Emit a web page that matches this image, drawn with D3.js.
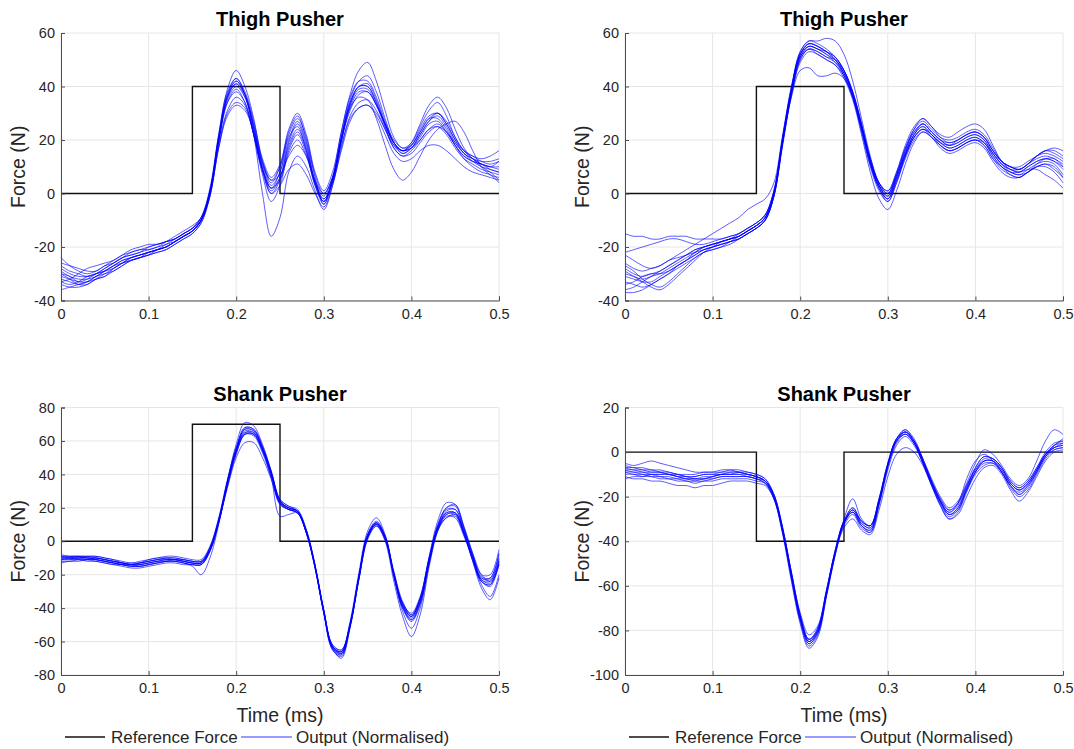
<!DOCTYPE html>
<html>
<head>
<meta charset="utf-8">
<script src="https://cdn.jsdelivr.net/npm/d3@7"></script>
<style>
  body { margin: 0; background: #ffffff; }
  svg { display: block; }
  text { font-family: "Liberation Sans", Arial, Helvetica, sans-serif; }
</style>
</head>
<body>
<svg id="fig" width="1074" height="749"></svg>
<script>
// Sample instants (ms) shared by every measured run
const sampleTimes = [
  0.00,0.01,0.02,0.03,0.04,0.05,0.06,0.07,0.08,0.09,
  0.10,0.11,0.12,0.13,0.14,0.15,0.16,0.17,0.18,0.19,
  0.20,0.21,0.22,0.23,0.24,0.25,0.26,0.27,0.28,0.29,
  0.30,0.31,0.32,0.33,0.34,0.35,0.36,0.37,0.38,0.39,
  0.40,0.41,0.42,0.43,0.44,0.45,0.46,0.47,0.48,0.49,
  0.50
];

// Commanded force pulses (step corners)
const refTimes = [0, 0.15, 0.15, 0.25, 0.25, 0.5];
const refThighA = [0, 0, 40, 40, 0, 0];
const refThighB = [0, 0, 40, 40, 0, 0];
const refShankA = [0, 0, 70, 70, 0, 0];
const refShankB = [0, 0, -40, -40, 0, 0];

// Axis ticks
const timeTicks = [0, 0.1, 0.2, 0.3, 0.4, 0.5];
const thighForceTicks = [-40, -20, 0, 20, 40, 60];
const shankForceTicksA = [-80, -60, -40, -20, 0, 20, 40, 60, 80];
const shankForceTicksB = [-100, -80, -60, -40, -20, 0, 20];

// Measured runs, thigh pusher (left)
const thighRunsA = [
  [-30,-31,-33,-32,-30,-29,-27,-25,-24,-23,
   -22,-21,-20,-18,-16,-14,-10,0,20,35,
   40,36,25,10,2,8,21,25,16,3,
   -3,5,20,32,38,38,33,26,19,16,
   18,23,28,28,24,18,14,12,11,10,
   9],
  [-28,-30,-31,-31,-30,-28,-26,-24,-23,-22,
   -21,-20,-19,-17,-15,-13,-9,1,22,39,
   46,40,28,12,4,10,23,29,20,6,
   -4,6,23,37,46,49,42,31,21,17,
   19,25,31,34,29,21,16,14,12,11,
   12],
  [-34,-35,-35,-34,-32,-31,-29,-27,-25,-24,
   -23,-22,-21,-19,-17,-15,-11,-1,17,29,
   33,31,23,11,5,7,14,18,14,5,
   0,6,18,28,32,33,30,24,18,16,
   17,20,24,25,22,17,13,11,9,8,
   7],
  [-32,-33,-34,-33,-31,-30,-28,-26,-24,-23,
   -22,-21,-20,-18,-16,-14,-10,0,21,37,
   43,37,22,0,-16,-9,8,14,10,1,
   -6,3,20,34,40,41,35,26,19,16,
   18,24,29,30,26,20,15,13,11,10,
   10],
  [-26,-27,-28,-29,-29,-27,-26,-24,-22,-21,
   -20,-19,-18,-17,-15,-13,-9,1,20,36,
   41,37,26,12,5,10,22,28,21,7,
   0,6,20,31,37,38,33,26,19,16,
   17,21,26,27,23,18,14,12,11,10,
   12],
  [-29,-31,-32,-32,-31,-29,-27,-26,-25,-24,
   -23,-21,-20,-18,-16,-14,-10,0,19,34,
   39,34,22,7,-3,3,16,22,15,3,
   -4,4,19,33,40,40,34,26,19,16,
   19,26,33,36,32,24,17,13,10,8,
   5],
  [-31,-32,-33,-33,-31,-29,-27,-25,-24,-23,
   -22,-21,-20,-18,-16,-14,-10,0,20,34,
   38,34,22,8,0,5,17,23,16,4,
   -3,5,20,32,36,35,28,18,9,5,
   8,14,20,24,26,27,23,16,10,7,
   6],
  [-33,-34,-33,-31,-30,-29,-28,-26,-25,-24,
   -22,-21,-19,-18,-16,-14,-10,0,20,36,
   41,36,24,9,2,6,18,24,17,4,
   -2,5,21,34,40,40,34,25,17,14,
   16,20,24,26,23,18,13,10,8,7,
   4],
  [-27,-29,-30,-31,-30,-28,-26,-24,-23,-22,
   -20,-19,-18,-17,-15,-13,-9,2,22,38,
   43,38,27,13,6,11,24,30,22,8,
   1,8,23,36,42,42,36,27,20,17,
   18,23,28,30,26,20,16,14,13,14,
   16],
  [-30,-32,-34,-34,-32,-31,-28,-26,-24,-23,
   -22,-21,-20,-18,-16,-14,-10,-1,18,31,
   36,33,22,9,2,5,15,20,14,4,
   -2,4,16,27,32,33,29,22,15,12,
   13,16,18,18,16,13,10,8,7,6,
   5],
  [-36,-35,-34,-33,-32,-30,-29,-27,-25,-24,
   -23,-22,-21,-19,-17,-15,-11,-1,17,30,
   34,32,22,9,0,3,9,11,7,0,
   -5,3,17,29,34,35,31,24,17,14,
   15,19,23,25,23,19,15,12,10,9,
   8],
  [-24,-27,-29,-30,-29,-27,-25,-23,-22,-21,
   -21,-20,-18,-16,-14,-12,-9,1,21,37,
   42,37,25,11,3,8,20,27,19,5,
   -1,6,21,33,39,39,33,25,18,15,
   17,22,27,29,25,19,15,13,12,12,
   13],
  [-33,-32,-30,-28,-27,-26,-25,-23,-21,-20,
   -19,-19,-18,-17,-15,-13,-10,0,20,36,
   42,37,24,9,1,6,19,26,18,4,
   -3,5,21,35,42,44,38,28,19,15,
   17,22,27,30,27,21,16,13,11,9,
   8]
];

// Measured runs, thigh pusher (right)
const thighRunsB = [
  [-30,-31,-32,-31,-30,-28,-26,-24,-22,-20,
   -19,-18,-17,-16,-14,-12,-9,0,20,38,
   51,55,54,52,50,45,37,25,12,3,
   -1,6,15,22,25,22,19,18,19,21,
   22,20,15,11,9,8,10,12,13,12,
   9],
  [-15,-16,-16,-17,-17,-16,-16,-16,-17,-17,
   -17,-17,-16,-15,-13,-11,-8,1,21,39,
   52,56,55,53,50,44,36,24,11,2,
   -2,5,14,21,24,22,19,17,18,20,
   21,19,14,10,8,7,9,11,12,11,
   7],
  [-22,-21,-20,-19,-18,-17,-17,-18,-19,-19,
   -18,-17,-16,-15,-13,-11,-8,1,21,40,
   53,57,56,54,51,46,38,26,13,4,
   0,7,17,24,27,24,21,20,21,23,
   24,22,17,12,10,9,11,14,15,14,
   12],
  [-28,-30,-31,-30,-29,-27,-25,-23,-21,-20,
   -19,-18,-17,-16,-14,-12,-9,0,19,36,
   46,47,44,44,45,43,36,24,11,2,
   -3,4,13,20,23,21,18,16,17,19,
   20,18,13,9,7,6,8,10,11,10,
   6],
  [-33,-34,-35,-34,-32,-30,-27,-25,-23,-21,
   -20,-19,-18,-16,-14,-12,-9,0,20,39,
   53,57,57,58,57,52,42,28,14,4,
   0,7,16,24,28,25,21,19,20,22,
   23,21,16,12,10,9,11,14,16,15,
   13],
  [-37,-37,-36,-34,-32,-30,-28,-26,-24,-22,
   -21,-20,-19,-17,-15,-13,-10,-1,18,37,
   50,54,52,50,48,43,35,22,8,-2,
   -6,1,11,19,23,21,17,15,16,18,
   19,17,12,8,6,6,8,10,10,8,
   4],
  [-26,-28,-29,-28,-27,-25,-23,-21,-19,-17,
   -15,-13,-11,-9,-6,-4,-2,4,22,40,
   52,56,55,53,50,46,38,26,13,4,
   1,8,17,23,26,23,20,18,20,22,
   23,21,16,12,10,9,11,13,14,13,
   11],
  [-34,-33,-31,-30,-30,-29,-27,-25,-23,-21,
   -20,-19,-18,-17,-15,-13,-10,-1,19,37,
   50,54,53,51,49,45,37,25,12,3,
   -1,6,15,22,26,23,20,18,19,21,
   22,20,15,11,9,9,11,14,16,16,
   14],
  [-27,-29,-32,-34,-35,-33,-30,-27,-24,-22,
   -21,-20,-18,-17,-15,-13,-10,-1,19,37,
   49,53,52,50,48,44,36,23,10,1,
   -3,4,14,21,24,21,18,16,17,19,
   20,18,13,10,8,8,10,12,13,12,
   10],
  [-31,-32,-33,-33,-31,-29,-27,-25,-22,-20,
   -19,-18,-17,-16,-14,-12,-9,0,20,38,
   52,56,55,53,51,46,38,26,13,4,
   1,8,18,25,28,25,22,21,23,25,
   26,24,18,12,9,8,9,9,7,5,
   2],
  [-29,-31,-33,-35,-36,-34,-31,-28,-25,-22,
   -20,-18,-17,-16,-14,-12,-9,0,20,38,
   51,55,54,52,49,44,36,24,11,2,
   -2,5,14,21,24,22,18,16,17,19,
   20,19,14,10,7,6,8,10,11,9,
   6],
  [-23,-25,-27,-28,-27,-25,-24,-23,-21,-20,
   -19,-18,-17,-15,-13,-11,-8,1,21,39,
   52,55,54,53,51,46,37,25,12,3,
   0,7,16,23,26,23,20,19,20,22,
   23,21,16,12,10,10,12,14,16,17,
   16],
  [-36,-35,-33,-31,-29,-27,-25,-23,-22,-21,
   -20,-19,-18,-17,-15,-13,-10,-1,19,38,
   51,54,53,51,50,45,37,25,12,3,
   -2,6,15,22,25,22,19,17,18,20,
   21,19,15,11,8,7,8,11,13,13,
   10]
];

// Measured runs, shank pusher (left)
const shankRunsA = [
  [-10,-10,-10,-10,-10,-11,-12,-13,-14,-14,
   -13,-12,-11,-11,-12,-13,-13,-5,12,35,
   54,66,65,55,40,24,20,18,6,-15,
   -42,-63,-66,-50,-22,3,10,2,-20,-38,
   -45,-35,-12,8,17,17,5,-10,-22,-23,
   -10],
  [-11,-11,-10,-10,-11,-12,-13,-14,-15,-14,
   -13,-12,-12,-12,-13,-15,-20,-10,10,36,
   58,71,69,58,42,25,21,18,6,-16,
   -43,-65,-69,-51,-22,4,12,3,-20,-40,
   -48,-38,-13,9,19,19,6,-10,-24,-26,
   -12],
  [-9,-9,-9,-10,-10,-11,-12,-13,-13,-13,
   -12,-11,-10,-10,-11,-12,-12,-4,12,32,
   50,59,59,50,37,22,19,17,5,-15,
   -41,-62,-65,-49,-21,2,9,1,-19,-37,
   -43,-33,-11,7,15,14,3,-11,-24,-26,
   -13],
  [-12,-12,-11,-11,-11,-12,-13,-14,-15,-15,
   -14,-13,-12,-12,-13,-14,-14,-6,11,34,
   54,65,65,55,41,24,19,17,5,-16,
   -43,-64,-70,-52,-23,2,11,3,-21,-42,
   -52,-40,-14,7,14,16,5,-12,-26,-33,
   -20],
  [-8,-9,-9,-9,-10,-11,-12,-13,-14,-13,
   -12,-11,-10,-10,-11,-12,-12,-4,13,36,
   55,67,66,56,41,24,20,18,7,-14,
   -41,-62,-65,-50,-23,1,9,0,-24,-45,
   -57,-44,-16,6,16,17,6,-9,-22,-22,
   -8],
  [-10,-10,-9,-9,-9,-10,-11,-13,-14,-15,
   -14,-13,-12,-11,-11,-12,-12,-4,13,36,
   56,68,67,56,40,22,19,17,6,-15,
   -42,-63,-67,-50,-21,4,11,2,-19,-37,
   -44,-34,-10,10,20,22,9,-7,-20,-24,
   -12],
  [-11,-11,-11,-12,-12,-13,-14,-15,-16,-16,
   -15,-14,-13,-13,-14,-14,-14,-6,11,33,
   52,64,64,54,40,23,19,17,5,-16,
   -43,-64,-67,-51,-23,2,10,1,-21,-39,
   -46,-36,-13,7,17,17,5,-12,-28,-35,
   -22],
  [-9,-10,-10,-9,-9,-10,-11,-12,-13,-12,
   -11,-10,-9,-9,-10,-11,-11,-3,14,37,
   56,68,67,57,42,25,21,19,7,-14,
   -42,-63,-66,-48,-19,6,14,4,-18,-36,
   -44,-34,-11,9,20,21,8,-8,-20,-20,
   -5],
  [-13,-12,-12,-11,-11,-12,-13,-14,-15,-15,
   -14,-13,-12,-12,-13,-14,-14,-6,11,34,
   53,64,63,53,38,23,20,18,6,-15,
   -42,-64,-68,-51,-22,3,10,2,-21,-40,
   -47,-37,-14,6,14,15,4,-10,-23,-25,
   -14],
  [-10,-10,-11,-11,-10,-11,-12,-13,-14,-14,
   -13,-12,-11,-11,-12,-13,-13,-5,12,35,
   55,67,66,56,41,24,20,18,6,-15,
   -42,-63,-66,-50,-22,3,10,2,-20,-38,
   -45,-35,-10,12,23,22,8,-8,-21,-22,
   -7],
  [-9,-9,-9,-10,-11,-12,-13,-14,-14,-13,
   -12,-11,-11,-11,-12,-13,-13,-5,12,34,
   53,64,64,54,38,15,16,17,5,-15,
   -42,-63,-67,-50,-21,4,11,2,-20,-38,
   -45,-35,-12,8,16,16,4,-11,-24,-27,
   -14],
  [-11,-10,-10,-11,-12,-13,-14,-14,-14,-13,
   -11,-10,-10,-11,-12,-13,-13,-5,12,34,
   54,65,64,55,40,23,19,18,6,-15,
   -43,-65,-68,-50,-21,3,11,3,-20,-39,
   -47,-37,-12,8,18,19,7,-9,-23,-24,
   -11]
];

// Measured runs, shank pusher (right)
const shankRunsB = [
  [-8,-9,-9,-10,-10,-10,-11,-12,-12,-12,
   -11,-10,-10,-10,-10,-11,-13,-20,-35,-55,
   -74,-85,-80,-63,-45,-32,-26,-32,-34,-22,
   -6,5,8,4,-4,-14,-22,-27,-24,-16,
   -8,-4,-4,-8,-14,-17,-14,-8,-1,2,
   3],
  [-5,-6,-5,-4,-5,-6,-7,-8,-9,-9,
   -9,-9,-8,-8,-9,-10,-12,-19,-34,-55,
   -75,-86,-81,-64,-46,-30,-21,-30,-33,-21,
   -5,6,10,5,-3,-13,-21,-26,-23,-15,
   -7,-2,-3,-7,-13,-16,-13,-7,0,4,
   5],
  [-11,-12,-12,-13,-13,-14,-15,-15,-16,-15,
   -15,-14,-13,-13,-13,-14,-15,-21,-36,-56,
   -74,-84,-79,-62,-44,-31,-27,-33,-36,-24,
   -8,3,7,3,-5,-15,-24,-30,-27,-18,
   -10,-6,-5,-9,-16,-20,-17,-10,-3,1,
   2],
  [-9,-10,-10,-11,-11,-12,-12,-13,-13,-12,
   -12,-11,-11,-11,-11,-12,-14,-21,-37,-58,
   -77,-88,-83,-65,-46,-32,-27,-33,-35,-23,
   -6,5,9,4,-5,-15,-23,-28,-25,-17,
   -9,-4,-4,-9,-15,-19,-15,-9,-2,1,
   2],
  [-7,-8,-8,-9,-9,-9,-10,-11,-11,-10,
   -10,-9,-9,-9,-10,-11,-13,-19,-34,-54,
   -73,-84,-79,-62,-44,-31,-25,-31,-33,-21,
   -5,6,9,5,-3,-12,-20,-25,-22,-14,
   -5,1,-1,-6,-12,-15,-12,-4,5,10,
   8],
  [-10,-10,-11,-11,-12,-12,-13,-13,-14,-13,
   -13,-12,-12,-12,-12,-13,-14,-20,-35,-54,
   -72,-82,-78,-62,-45,-34,-30,-35,-37,-26,
   -11,-1,2,0,-6,-15,-24,-30,-28,-20,
   -12,-7,-6,-10,-17,-22,-18,-11,-4,0,
   1],
  [-6,-7,-7,-8,-8,-9,-10,-10,-10,-9,
   -9,-8,-8,-9,-10,-11,-13,-20,-35,-55,
   -74,-85,-81,-64,-45,-31,-25,-31,-33,-21,
   -5,6,10,6,-3,-13,-22,-28,-25,-16,
   -7,-2,-3,-7,-13,-16,-13,-7,-1,3,
   4],
  [-9,-9,-10,-10,-11,-11,-12,-12,-13,-13,
   -12,-11,-11,-11,-11,-12,-13,-20,-36,-56,
   -75,-86,-81,-63,-45,-32,-27,-33,-35,-23,
   -7,4,8,4,-4,-14,-22,-28,-26,-17,
   -9,-5,-5,-9,-15,-18,-15,-9,-2,2,
   3],
  [-8,-8,-9,-9,-9,-10,-11,-11,-12,-11,
   -11,-10,-10,-9,-9,-10,-12,-19,-34,-54,
   -73,-84,-80,-63,-44,-31,-26,-32,-34,-22,
   -6,5,8,4,-5,-14,-22,-27,-23,-12,
   -4,-1,-4,-9,-15,-19,-16,-9,-2,3,
   5],
  [-12,-11,-11,-10,-10,-10,-11,-12,-12,-12,
   -11,-10,-10,-10,-11,-12,-14,-21,-36,-57,
   -76,-87,-82,-64,-46,-33,-28,-34,-36,-23,
   -6,5,9,5,-4,-14,-23,-29,-26,-17,
   -9,-4,-4,-8,-14,-17,-14,-8,-1,2,
   4],
  [-7,-7,-8,-8,-9,-10,-10,-11,-11,-10,
   -10,-10,-9,-9,-10,-11,-13,-20,-35,-56,
   -75,-85,-80,-63,-45,-32,-26,-31,-33,-22,
   -6,6,9,5,-4,-13,-21,-26,-23,-15,
   -8,-3,-3,-7,-14,-17,-14,-8,-1,3,
   6]
];

// Panel layout
const panels = [
  { title: "Thigh Pusher", runs: thighRunsA, ref: refThighA, yDomain: [-40, 60], yTicks: thighForceTicks,
    left: 61, right: 499, top: 33, bottom: 300.5, xLabel: false },
  { title: "Thigh Pusher", runs: thighRunsB, ref: refThighB, yDomain: [-40, 60], yTicks: thighForceTicks,
    left: 625, right: 1063, top: 33, bottom: 300.5, xLabel: false },
  { title: "Shank Pusher", runs: shankRunsA, ref: refShankA, yDomain: [-80, 80], yTicks: shankForceTicksA,
    left: 61, right: 499, top: 407.5, bottom: 675, xLabel: true },
  { title: "Shank Pusher", runs: shankRunsB, ref: refShankB, yDomain: [-100, 20], yTicks: shankForceTicksB,
    left: 625, right: 1063, top: 407.5, bottom: 675, xLabel: true }
];

const svg = d3.select("#fig");
svg.append("rect").attr("width", 1074).attr("height", 749).attr("fill", "#ffffff");

const textColor = "#262626";
const axisColor = "#4d4d4d";
const gridColor = "#e6e6e6";
const runColor = "#0000ff";

panels.forEach(p => {
  const x = d3.scaleLinear().domain([0, 0.5]).range([p.left, p.right]);
  const y = d3.scaleLinear().domain(p.yDomain).range([p.bottom, p.top]);
  const g = svg.append("g");

  // grid
  g.append("g").selectAll("line").data(timeTicks).join("line")
    .attr("x1", d => x(d)).attr("x2", d => x(d))
    .attr("y1", p.top).attr("y2", p.bottom)
    .attr("stroke", gridColor).attr("stroke-width", 1);
  g.append("g").selectAll("line").data(p.yTicks).join("line")
    .attr("x1", p.left).attr("x2", p.right)
    .attr("y1", d => y(d)).attr("y2", d => y(d))
    .attr("stroke", gridColor).attr("stroke-width", 1);

  // commanded pulse
  const refLine = d3.line().x((d, i) => x(refTimes[i])).y(d => y(d));
  g.append("path").datum(p.ref)
    .attr("d", refLine)
    .attr("fill", "none").attr("stroke", "#111111").attr("stroke-width", 1.4);

  // measured runs
  const runLine = d3.line()
    .x((d, i) => x(sampleTimes[i]))
    .y(d => y(d))
    .curve(d3.curveCatmullRom.alpha(0.5));
  g.append("g").selectAll("path").data(p.runs).join("path")
    .attr("d", runLine)
    .attr("fill", "none").attr("stroke", runColor)
    .attr("stroke-width", 0.75).attr("stroke-opacity", 0.85);

  // axes
  const xAxis = d3.axisBottom(x).tickValues(timeTicks).tickSize(-4).tickPadding(8)
    .tickFormat(d => d === 0 ? "0" : d3.format(".1f")(d));
  const xg = g.append("g").attr("transform", `translate(0,${p.bottom})`).call(xAxis);
  const yAxis = d3.axisLeft(y).tickValues(p.yTicks).tickSize(-4).tickPadding(6)
    .tickFormat(d => String(d));
  const yg = g.append("g").attr("transform", `translate(${p.left},0)`).call(yAxis);
  [xg, yg].forEach(a => {
    a.select(".domain").attr("stroke", axisColor).attr("stroke-width", 1);
    a.selectAll(".tick line").attr("stroke", axisColor);
    a.selectAll(".tick text").attr("fill", textColor)
      .style("font-family", "'Liberation Sans', Arial, sans-serif").style("font-size", "14.5px");
  });

  // title
  g.append("text")
    .attr("x", (p.left + p.right) / 2).attr("y", p.top - 7)
    .attr("text-anchor", "middle")
    .attr("font-weight", "bold").attr("font-size", 20).attr("fill", "#000")
    .text(p.title);

  // y label
  g.append("text")
    .attr("transform", `translate(${p.left - 36},${(p.top + p.bottom) / 2}) rotate(-90)`)
    .attr("text-anchor", "middle").attr("font-size", 19.5).attr("fill", textColor)
    .text("Force (N)");

  if (p.xLabel) {
    g.append("text")
      .attr("x", (p.left + p.right) / 2).attr("y", p.bottom + 47)
      .attr("text-anchor", "middle").attr("font-size", 19.5).attr("fill", textColor)
      .text("Time (ms)");

    // legend
    const lg = g.append("g").attr("transform", `translate(${p.left + 4},737)`);
    lg.append("line").attr("x1", 0).attr("x2", 40).attr("y1", 0).attr("y2", 0)
      .attr("stroke", "#111111").attr("stroke-width", 1.4);
    lg.append("text").attr("x", 46).attr("y", 6).attr("font-size", 17).attr("fill", textColor)
      .text("Reference Force");
    lg.append("line").attr("x1", 176).attr("x2", 227).attr("y1", 0).attr("y2", 0)
      .attr("stroke", runColor).attr("stroke-width", 0.8);
    lg.append("text").attr("x", 231).attr("y", 6).attr("font-size", 17).attr("fill", textColor)
      .text("Output (Normalised)");
  }
});
</script>
</body>
</html>
